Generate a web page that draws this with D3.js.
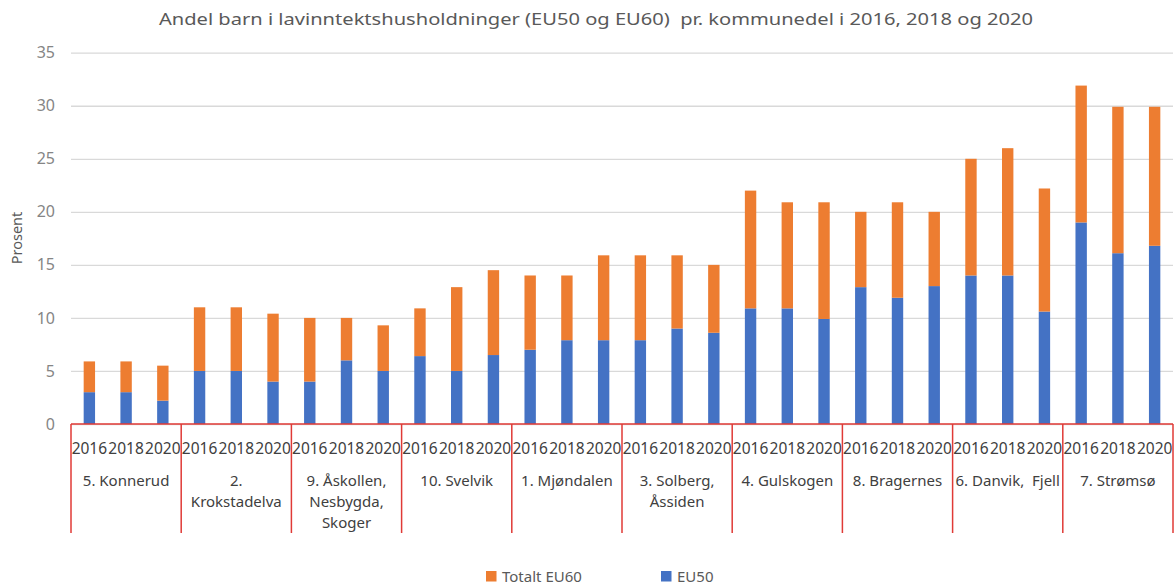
<!DOCTYPE html>
<html>
<head>
<meta charset="utf-8">
<script src="https://cdn.jsdelivr.net/npm/d3@7"></script>
<style>
  body { margin: 0; background: #fff; }
  svg { display: block; font-family: "Noto Sans", "Open Sans", sans-serif; }
  svg text { white-space: pre; }
</style>
</head>
<body>
<svg id="chart"></svg>
<script>
// Kommunedeler (each label is split into its lines)
const regions = [
  ["5. Konnerud"],
  ["2.", "Krokstadelva"],
  ["9. Åskollen,", "Nesbygda,", "Skoger"],
  ["10. Svelvik"],
  ["1. Mjøndalen"],
  ["3. Solberg,", "Åssiden"],
  ["4. Gulskogen"],
  ["8. Bragernes"],
  ["6. Danvik,  Fjell"],
  ["7. Strømsø"]
];
const years = ["2016", "2018", "2020"];

// EU50 per region, per year (2016, 2018, 2020)
const eu50 = [
  [3.0, 3.0, 2.2],
  [5.0, 5.0, 4.0],
  [4.0, 6.0, 5.0],
  [6.4, 5.0, 6.5],
  [7.0, 7.9, 7.9],
  [7.9, 9.0, 8.6],
  [10.9, 10.9, 9.9],
  [12.9, 11.9, 13.0],
  [14.0, 14.0, 10.6],
  [19.0, 16.1, 16.8]
];

// Totalt EU60 per region, per year (top of the stacked bar)
const totalEU60 = [
  [5.9, 5.9, 5.5],
  [11.0, 11.0, 10.4],
  [10.0, 10.0, 9.3],
  [10.9, 12.9, 14.5],
  [14.0, 14.0, 15.9],
  [15.9, 15.9, 15.0],
  [22.0, 20.9, 20.9],
  [20.0, 20.9, 20.0],
  [25.0, 26.0, 22.2],
  [31.9, 29.9, 29.9]
];

const yTicks = [0, 5, 10, 15, 20, 25, 30, 35];

const W = 1174, H = 585;
const plotLeft = 71, plotRight = 1173, plotTop = 52.7, plotBottom = 424;
const orange = "#ED7D31", blue = "#4472C4", red = "#E03A36";

const svg = d3.select("#chart").attr("width", W).attr("height", H);

// scales
const y = d3.scaleLinear().domain([0, 35]).range([plotBottom, plotTop]);
const x0 = d3.scaleBand().domain(d3.range(regions.length)).range([plotLeft, plotRight]).padding(0);
const x1 = d3.scaleBand().domain(years).range([0, x0.bandwidth()])
  .paddingInner(0.69).paddingOuter(0.345);

// gridlines + y tick labels
const yAxis = svg.append("g")
  .attr("transform", `translate(${plotLeft},0)`)
  .call(d3.axisLeft(y).tickValues(yTicks).tickSize(-(plotRight - plotLeft)).tickPadding(16));
yAxis.select(".domain").remove();
yAxis.selectAll(".tick line").attr("stroke", "#d9d9d9").attr("stroke-width", 1.3);
yAxis.selectAll(".tick text")
  .attr("fill", "#858585")
  .style("font-size", "16px")
  .style("font-family", "'Noto Sans', sans-serif");

// y axis title
svg.append("text")
  .attr("transform", `translate(22,238) rotate(-90)`)
  .attr("text-anchor", "middle")
  .attr("fill", "#595959")
  .style("font-size", "14.5px")
  .text("Prosent");

// stacked bars
const groups = svg.append("g").selectAll("g")
  .data(regions)
  .join("g")
  .attr("transform", (d, i) => `translate(${x0(i)},0)`);

groups.selectAll("rect.eu50")
  .data((d, i) => years.map((yr, j) => ({ yr, v: eu50[i][j] })))
  .join("rect")
  .attr("class", "eu50")
  .attr("x", d => x1(d.yr))
  .attr("width", x1.bandwidth())
  .attr("y", d => y(d.v))
  .attr("height", d => y(0) - y(d.v))
  .attr("fill", blue);

groups.selectAll("rect.eu60")
  .data((d, i) => years.map((yr, j) => ({ yr, lo: eu50[i][j], hi: totalEU60[i][j] })))
  .join("rect")
  .attr("class", "eu60")
  .attr("x", d => x1(d.yr))
  .attr("width", x1.bandwidth())
  .attr("y", d => y(d.hi))
  .attr("height", d => y(d.lo) - y(d.hi))
  .attr("fill", orange);

// year labels
groups.selectAll("text.year")
  .data(years)
  .join("text")
  .attr("class", "year")
  .attr("x", d => x1(d) + x1.bandwidth() / 2)
  .attr("y", 454)
  .attr("text-anchor", "middle")
  .attr("fill", "#404040")
  .style("font-size", "15.5px")
  .text(d => d);

// region labels
groups.append("text")
  .attr("x", x0.bandwidth() / 2)
  .attr("y", 486)
  .attr("text-anchor", "middle")
  .attr("fill", "#404040")
  .style("font-size", "15px")
  .selectAll("tspan")
  .data(d => d)
  .join("tspan")
  .attr("x", x0.bandwidth() / 2)
  .attr("dy", (d, i) => i === 0 ? 0 : 20.8)
  .text(d => d);

// red category axis: baseline and dividers
svg.append("line")
  .attr("x1", plotLeft).attr("x2", plotRight)
  .attr("y1", y(0)).attr("y2", y(0))
  .attr("stroke", red).attr("stroke-width", 1.5);

const dividers = d3.range(regions.length + 1).map(i => i < regions.length ? x0(i) : x0(i - 1) + x0.bandwidth());
svg.append("g").selectAll("line")
  .data(dividers)
  .join("line")
  .attr("x1", d => d).attr("x2", d => d)
  .attr("y1", y(0)).attr("y2", 533)
  .attr("stroke", red).attr("stroke-width", 1.5);

// title
svg.append("text")
  .attr("x", 596)
  .attr("y", 25)
  .attr("text-anchor", "middle")
  .attr("fill", "#595959")
  .attr("textLength", 874)
  .attr("lengthAdjust", "spacingAndGlyphs")
  .style("font-size", "17px")
  .text("Andel barn i lavinntektshusholdninger (EU50 og EU60)  pr. kommunedel i 2016, 2018 og 2020");

// legend
const legendItems = [
  { label: "Totalt EU60", color: orange, x: 486 },
  { label: "EU50", color: blue, x: 661 }
];
const legend = svg.append("g").selectAll("g")
  .data(legendItems)
  .join("g")
  .attr("transform", d => `translate(${d.x},571)`);
legend.append("rect")
  .attr("width", 10.5).attr("height", 10.5)
  .attr("fill", d => d.color);
legend.append("text")
  .attr("x", 16)
  .attr("y", 10.5)
  .attr("fill", "#595959")
  .style("font-size", "15px")
  .text(d => d.label);
</script>
</body>
</html>
